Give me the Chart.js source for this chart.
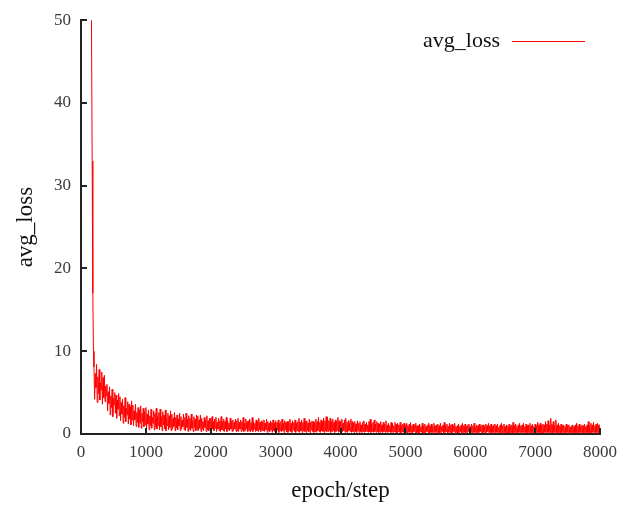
<!DOCTYPE html>
<html>
<head>
<meta charset="utf-8">
<script src="https://cdn.jsdelivr.net/npm/chart.js@4.4.0/dist/chart.umd.min.js"></script>
<style>
  html, body { margin: 0; padding: 0; background: #fff; }
</style>
</head>
<body>
<canvas id="chart" width="618" height="506"></canvas>
<script>
// first steps, where the loss falls off the top of the plot
const headSteps = [160, 172, 182, 192];
const headLoss = [52, 33, 17, 10];

// after that the log is written every 10 steps, from 200 to 8000
const stepFirst = 200;
const stepEvery = 10;
const loss = [
  8.1, 4.2, 7.3, 5.6, 8.4, 3.8, 6.9, 4.9, 7.8, 4.1, 6.2, 5.3, 7.5, 3.6, 6.8, 4.4, 7.1, 3.9, 5.8, 4.6,
  6.0, 2.8, 5.1, 3.7, 5.7, 2.3, 4.6, 3.2, 5.4, 2.1, 4.3, 3.5, 5.0, 2.5, 4.7, 1.9, 4.1, 3.0, 4.9, 2.2,
  4.5, 1.6, 3.8, 2.4, 4.2, 1.3, 3.4, 2.0, 4.4, 1.5, 3.1, 2.3, 3.9, 1.2, 3.6, 1.8, 3.3, 1.1, 4.0, 1.7,
  3.5, 1.0, 2.8, 1.7, 3.6, 0.9, 2.6, 1.4, 3.2, 0.8, 2.9, 1.3, 3.4, 0.7, 2.5, 1.5, 3.1, 0.9, 2.7, 1.1,
  3.2, 0.6, 2.4, 1.2, 2.9, 0.5, 2.2, 1.0, 3.0, 0.7, 2.0, 1.3, 2.8, 0.5, 2.5, 0.9, 3.1, 0.6, 2.1, 1.0,
  2.6, 0.5, 3.0, 0.9, 2.1, 0.4, 2.7, 1.1, 2.3, 0.6, 2.9, 0.4, 1.9, 1.0, 2.5, 0.5, 2.2, 0.8, 2.8, 0.4,
  2.4, 0.6, 1.9, 0.9, 2.6, 0.4, 2.0, 0.7, 2.3, 0.5, 1.8, 1.0, 2.5, 0.4, 2.1, 0.6, 1.7, 0.9, 2.4, 0.5,
  2.0, 0.4, 2.5, 0.8, 1.8, 0.3, 2.2, 0.6, 1.9, 0.4, 2.4, 0.7, 1.6, 0.3, 2.1, 0.8, 1.8, 0.4, 2.3, 0.5,
  2.2, 0.4, 1.7, 0.7, 2.3, 0.3, 1.9, 0.6, 1.5, 0.4, 2.0, 0.8, 1.7, 0.3, 2.2, 0.5, 1.6, 0.4, 1.9, 0.6,
  1.9, 0.3, 2.1, 0.6, 1.5, 0.4, 1.8, 0.7, 2.0, 0.3, 1.4, 0.6, 1.9, 0.4, 1.6, 0.3, 2.1, 0.5, 1.5, 0.4,
  1.8, 0.3, 1.5, 0.6, 2.0, 0.3, 1.6, 0.5, 1.3, 0.4, 1.9, 0.6, 1.5, 0.3, 1.7, 0.4, 1.4, 0.6, 1.8, 0.3,
  1.6, 0.4, 1.9, 0.3, 1.4, 0.6, 1.7, 0.3, 1.5, 0.5, 2.0, 0.3, 1.3, 0.4, 1.8, 0.6, 1.5, 0.3, 1.6, 0.4,
  1.8, 0.3, 1.4, 0.5, 2.0, 0.3, 1.5, 0.6, 1.3, 0.3, 1.7, 0.4, 1.5, 0.3, 1.9, 0.5, 1.4, 0.3, 1.6, 0.4,
  1.5, 0.4, 1.7, 0.3, 1.3, 0.5, 1.8, 0.2, 1.5, 0.4, 1.3, 0.3, 1.6, 0.5, 1.4, 0.2, 1.7, 0.4, 1.3, 0.3,
  1.6, 0.3, 1.4, 0.5, 1.7, 0.2, 1.3, 0.4, 1.5, 0.3, 1.8, 0.4, 1.3, 0.2, 1.6, 0.5, 1.4, 0.3, 1.5, 0.2,
  1.5, 0.4, 1.8, 0.3, 1.3, 0.2, 1.6, 0.5, 1.4, 0.3, 1.7, 0.2, 1.3, 0.4, 1.5, 0.3, 1.9, 0.2, 1.4, 0.4,
  1.7, 0.2, 1.4, 0.4, 1.9, 0.3, 1.5, 0.2, 1.6, 0.4, 1.3, 0.3, 1.8, 0.2, 1.4, 0.5, 1.6, 0.3, 1.5, 0.2,
  1.4, 0.3, 1.8, 0.2, 1.5, 0.4, 2.0, 0.3, 1.4, 0.2, 1.7, 0.4, 1.5, 0.3, 1.9, 0.2, 1.6, 0.4, 2.1, 0.3,
  2.0, 0.3, 1.6, 0.4, 1.9, 0.2, 1.5, 0.3, 1.8, 0.4, 1.4, 0.2, 1.7, 0.3, 1.5, 0.4, 2.0, 0.2, 1.6, 0.3,
  1.5, 0.2, 1.8, 0.3, 1.3, 0.4, 1.7, 0.2, 1.9, 0.3, 1.4, 0.2, 1.6, 0.4, 1.3, 0.3, 1.8, 0.2, 1.5, 0.3,
  1.3, 0.2, 1.5, 0.3, 1.2, 0.2, 1.6, 0.4, 1.3, 0.2, 1.5, 0.3, 1.1, 0.2, 1.4, 0.3, 1.6, 0.2, 1.2, 0.3,
  1.4, 0.3, 1.1, 0.2, 1.5, 0.3, 1.8, 0.2, 1.2, 0.3, 1.4, 0.2, 1.7, 0.3, 1.2, 0.2, 1.5, 0.3, 1.3, 0.2,
  1.2, 0.2, 1.5, 0.3, 1.1, 0.2, 1.4, 0.3, 1.2, 0.2, 1.6, 0.3, 1.1, 0.2, 1.3, 0.3, 1.0, 0.2, 1.4, 0.2,
  1.3, 0.2, 1.0, 0.3, 1.4, 0.2, 1.2, 0.1, 1.3, 0.3, 1.1, 0.2, 1.4, 0.1, 1.0, 0.3, 1.2, 0.2, 1.3, 0.1,
  1.1, 0.2, 1.3, 0.1, 1.0, 0.3, 1.2, 0.2, 1.4, 0.2, 1.0, 0.1, 1.2, 0.3, 1.1, 0.2, 1.3, 0.1, 1.0, 0.2,
  1.0, 0.1, 1.2, 0.3, 0.9, 0.2, 1.3, 0.1, 1.0, 0.2, 1.2, 0.1, 0.9, 0.3, 1.1, 0.2, 1.3, 0.1, 1.0, 0.2,
  1.2, 0.2, 0.9, 0.1, 1.3, 0.3, 1.0, 0.2, 1.1, 0.1, 1.2, 0.2, 1.0, 0.1, 1.3, 0.2, 0.9, 0.3, 1.1, 0.1,
  1.4, 0.2, 1.0, 0.3, 1.2, 0.1, 0.9, 0.2, 1.3, 0.2, 1.1, 0.1, 1.2, 0.2, 1.0, 0.3, 1.3, 0.1, 0.9, 0.2,
  1.0, 0.1, 1.2, 0.2, 0.9, 0.3, 1.1, 0.1, 1.3, 0.2, 1.0, 0.2, 1.2, 0.1, 0.9, 0.2, 1.1, 0.3, 1.2, 0.1,
  0.9, 0.2, 1.2, 0.1, 1.0, 0.2, 1.3, 0.2, 0.8, 0.1, 1.1, 0.2, 1.0, 0.1, 1.2, 0.3, 0.9, 0.2, 1.1, 0.1,
  1.1, 0.2, 0.9, 0.1, 1.2, 0.2, 1.0, 0.3, 1.3, 0.1, 1.0, 0.2, 1.2, 0.1, 0.9, 0.2, 1.1, 0.1, 1.2, 0.2,
  1.0, 0.2, 1.2, 0.1, 0.8, 0.2, 1.1, 0.1, 1.3, 0.2, 1.0, 0.1, 1.2, 0.2, 0.9, 0.1, 1.1, 0.2, 1.0, 0.1,
  1.2, 0.1, 0.9, 0.2, 1.1, 0.1, 1.4, 0.2, 1.0, 0.1, 1.2, 0.2, 0.9, 0.1, 1.1, 0.2, 1.3, 0.1, 1.0, 0.2,
  1.1, 0.2, 1.3, 0.1, 0.9, 0.2, 1.2, 0.1, 1.0, 0.2, 1.1, 0.1, 1.3, 0.2, 1.0, 0.1, 1.2, 0.2, 0.9, 0.1,
  1.2, 0.1, 1.0, 0.2, 1.4, 0.1, 1.1, 0.2, 1.3, 0.1, 1.0, 0.2, 1.2, 0.1, 1.1, 0.2, 1.5, 0.1, 1.2, 0.2,
  1.6, 0.2, 1.1, 0.1, 1.9, 0.2, 1.2, 0.1, 1.5, 0.2, 1.0, 0.1, 1.7, 0.2, 1.1, 0.1, 1.3, 0.2, 1.0, 0.1,
  1.2, 0.2, 1.0, 0.1, 1.1, 0.2, 0.9, 0.1, 1.2, 0.2, 1.0, 0.1, 1.1, 0.2, 0.8, 0.1, 1.0, 0.2, 1.1, 0.1,
  0.9, 0.2, 1.1, 0.1, 1.3, 0.2, 1.0, 0.1, 1.2, 0.2, 0.9, 0.1, 1.1, 0.2, 1.0, 0.1, 1.2, 0.2, 0.9, 0.1,
  1.1, 0.2, 1.5, 0.1, 1.0, 0.2, 1.3, 0.1, 1.1, 0.2, 1.4, 0.1, 1.0, 0.2, 1.2, 0.1, 1.3, 0.2, 1.1, 0.1,
  1.2
];

const xTicks = [0, 1000, 2000, 3000, 4000, 5000, 6000, 7000, 8000];
const yTicks = [0, 10, 20, 30, 40, 50];

const serif = "'Liberation Serif', 'DejaVu Serif', serif";
const axisColor = "#222";

const points = headSteps.map((s, i) => ({ x: s, y: headLoss[i] }))
  .concat(loss.map((v, i) => ({ x: stepFirst + i * stepEvery, y: v })));

// gnuplot-style marks: ticks point into the plot, key sits top right
const gnuplotDecor = {
  id: "gnuplotDecor",
  afterDatasetsDraw(chart) {
    const { ctx, chartArea, scales } = chart;
    ctx.save();
    ctx.strokeStyle = axisColor;
    ctx.lineWidth = 2;
    ctx.beginPath();
    xTicks.forEach((t) => {
      const px = Math.round(scales.x.getPixelForValue(t));
      ctx.moveTo(px, chartArea.bottom);
      ctx.lineTo(px, chartArea.bottom - 6);
    });
    yTicks.forEach((t) => {
      const py = Math.round(scales.y.getPixelForValue(t));
      ctx.moveTo(chartArea.left, py);
      ctx.lineTo(chartArea.left + 6, py);
    });
    ctx.stroke();

    ctx.fillStyle = "#111";
    ctx.font = "22px " + serif;
    ctx.textAlign = "right";
    ctx.textBaseline = "middle";
    ctx.fillText("avg_loss", 500, 41);
    ctx.fillStyle = "#ff0000";
    ctx.fillRect(512, 41, 73, 1);
    ctx.restore();
  },
};

new Chart(document.getElementById("chart"), {
  type: "line",
  data: {
    datasets: [{
      label: "avg_loss",
      data: points,
      borderColor: "#ff0000",
      borderWidth: 1,
      pointRadius: 0,
      tension: 0,
    }],
  },
  options: {
    responsive: false,
    animation: false,
    layout: { padding: { top: 15, right: 18, left: 0, bottom: 0 } },
    plugins: { legend: { display: false }, tooltip: { enabled: false } },
    scales: {
      x: {
        type: "linear",
        min: 0,
        max: 8000,
        afterBuildTicks: (s) => { s.ticks = xTicks.map((v) => ({ value: v })); },
        ticks: { color: "#3a3a3a", font: { family: serif, size: 17 }, padding: 8, maxRotation: 0, callback: (v) => String(v) },
        grid: { display: false, drawTicks: false },
        border: { display: true, color: axisColor, width: 2 },
        title: { display: true, text: "epoch/step", color: "#111", font: { family: serif, size: 23 }, padding: { top: 0, bottom: 1 } },
        afterFit: (s) => { s.height = 72; s.paddingRight = 0; s.paddingLeft = 0; },
      },
      y: {
        min: 0,
        max: 50,
        afterBuildTicks: (s) => { s.ticks = yTicks.map((v) => ({ value: v })); },
        ticks: { color: "#3a3a3a", font: { family: serif, size: 17 }, padding: 10, callback: (v) => String(v) },
        grid: { display: false, drawTicks: false },
        border: { display: true, color: axisColor, width: 2 },
        title: { display: true, text: "avg_loss", color: "#111", font: { family: serif, size: 23 }, padding: { top: 12, bottom: 0 } },
        afterFit: (s) => { s.width = 81; },
      },
    },
  },
  plugins: [gnuplotDecor],
});
</script>
</body>
</html>
